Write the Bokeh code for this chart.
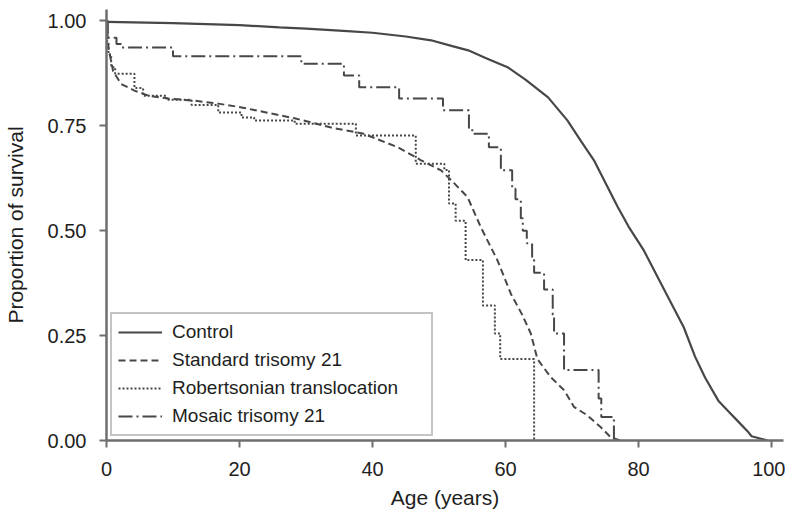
from bokeh.plotting import figure
from bokeh.models import Range1d, FixedTicker, Legend, LegendItem
from bokeh.embed import file_html
from bokeh.resources import INLINE

# ---- data ----
control_age = [0, 10, 20, 26, 30, 35, 40, 45, 48.8, 52, 54.4, 57, 60.4, 63, 66.4, 69.3,
               71.3, 73.3, 75, 76.9, 78.5, 80.8, 84, 86.8, 88.5, 90, 92, 93.5, 95, 96.5,
               97, 98, 99.4]
control_surv = [0.998, 0.995, 0.99, 0.985, 0.982, 0.977, 0.972, 0.963, 0.954, 0.94, 0.93,
                0.912, 0.889, 0.86, 0.818, 0.763, 0.715, 0.668, 0.615, 0.556, 0.51, 0.453,
                0.355, 0.27, 0.2, 0.15, 0.095, 0.07, 0.045, 0.02, 0.01, 0.006, 0.0]

std_age = [0, 0.3, 1, 2.2, 4.2, 6.3, 9.3, 13.2, 16.8, 20.3, 24, 28.3, 33.8, 38.7, 43.8,
           47.3, 50.3, 52.3, 54.3, 56.3, 58.8, 60.8, 62.5, 63.8, 64.8, 66.8, 68.8, 70.3,
           72.3, 74.3, 75.8, 77.3]
std_surv = [1.0, 0.935, 0.88, 0.85, 0.834, 0.822, 0.815, 0.81, 0.803, 0.794, 0.782, 0.768,
            0.746, 0.731, 0.699, 0.668, 0.644, 0.613, 0.58, 0.508, 0.429, 0.35, 0.30, 0.255,
            0.194, 0.151, 0.12, 0.08, 0.06, 0.032, 0.008, 0.0]

rob_age = [0, 0.1, 0.3, 0.7, 1.3, 4.2, 5.5, 9.0, 12.8, 16.8, 20.3, 22.2, 28.3, 37.5, 46.5,
           50.8, 51.5, 52.5, 54.0, 56.6, 58.4, 59.2, 64.3]
rob_surv = [1.0, 0.95, 0.92, 0.89, 0.874, 0.84, 0.822, 0.812, 0.80, 0.782, 0.77, 0.763,
            0.755, 0.727, 0.66, 0.645, 0.565, 0.524, 0.43, 0.322, 0.255, 0.194, 0.0]

mos_age = [0, 0.2, 1.5, 2.2, 10.0, 29.3, 35.7, 38.0, 44.0, 50.6, 54.5, 55.0, 57.5, 59.3,
           61.0, 61.5, 62.3, 62.6, 63.2, 64.0, 64.3, 65.8, 67.1, 67.3, 68.8, 74.0, 74.4, 76.3]
mos_surv = [1.0, 0.96, 0.945, 0.937, 0.916, 0.898, 0.87, 0.842, 0.815, 0.787, 0.745, 0.731,
            0.699, 0.644, 0.60, 0.575, 0.53, 0.50, 0.47, 0.43, 0.40, 0.36, 0.30, 0.255, 0.168,
            0.10, 0.056, 0.0]

x_ticks = [0, 20, 40, 60, 80, 100]
y_ticks = [0.0, 0.25, 0.5, 0.75, 1.0]
y_tick_labels = {0.0: "0.00", 0.25: "0.25", 0.5: "0.50", 0.75: "0.75", 1.0: "1.00"}

labels = ["Control", "Standard trisomy 21", "Robertsonian translocation", "Mosaic trisomy 21"]

FONT = "Liberation Sans"
LINE = "#474747"
AXIS = "#6e6e6e"
TEXT = "#1e1e1e"

p = figure(width=785, height=512, output_backend="svg", toolbar_location=None,
           x_range=Range1d(0, 101.8), y_range=Range1d(0, 1.0274),
           min_border_left=105, min_border_right=2, min_border_top=9, min_border_bottom=72)
p.outline_line_color = None
p.xgrid.visible = False
p.ygrid.visible = False
p.background_fill_color = "white"

r_ctrl = p.line(control_age, control_surv, line_color=LINE, line_width=2.2)
r_std = p.line(std_age, std_surv, line_color=LINE, line_width=2, line_dash="7 4")
r_rob = p.step(rob_age, rob_surv, mode="after", line_color=LINE, line_width=2, line_dash="2 2")
r_mos = p.step(mos_age, mos_surv, mode="after", line_color=LINE, line_width=2, line_dash="14 4 2 4")

for ax in (p.xaxis[0], p.yaxis[0]):
    ax.axis_line_color = AXIS
    ax.axis_line_width = 2.5
    ax.major_tick_line_color = AXIS
    ax.major_tick_line_width = 2
    ax.major_tick_out = 7
    ax.major_tick_in = 0
    ax.minor_tick_line_color = None
    ax.major_label_text_font = FONT
    ax.major_label_text_font_size = "20px"
    ax.major_label_text_color = TEXT
    ax.axis_label_text_font = FONT
    ax.axis_label_text_font_size = "21px"
    ax.axis_label_text_font_style = "normal"
    ax.axis_label_text_color = TEXT

p.xaxis.ticker = FixedTicker(ticks=x_ticks)
p.yaxis.ticker = FixedTicker(ticks=y_ticks)
p.yaxis.major_label_overrides = y_tick_labels
p.xaxis.axis_label = "Age (years)"
p.yaxis.axis_label = "Proportion of survival"
p.xaxis.major_label_standoff = 14
p.yaxis.major_label_standoff = 13
p.xaxis.axis_label_standoff = 7
p.yaxis.axis_label_standoff = 18

legend = Legend(items=[LegendItem(label=labels[0], renderers=[r_ctrl]),
                       LegendItem(label=labels[1], renderers=[r_std]),
                       LegendItem(label=labels[2], renderers=[r_rob]),
                       LegendItem(label=labels[3], renderers=[r_mos])],
                location=(4, 4), orientation="vertical",
                glyph_width=44, glyph_height=24, label_height=24, label_width=253,
                label_standoff=10, spacing=4, padding=6, margin=0,
                label_text_font=FONT, label_text_font_size="19px", label_text_color=TEXT,
                border_line_color="#8a8a8a", border_line_width=2,
                background_fill_color="white", background_fill_alpha=1.0)
p.add_layout(legend, "center")

open("out.html", "w").write(file_html(p, INLINE))
